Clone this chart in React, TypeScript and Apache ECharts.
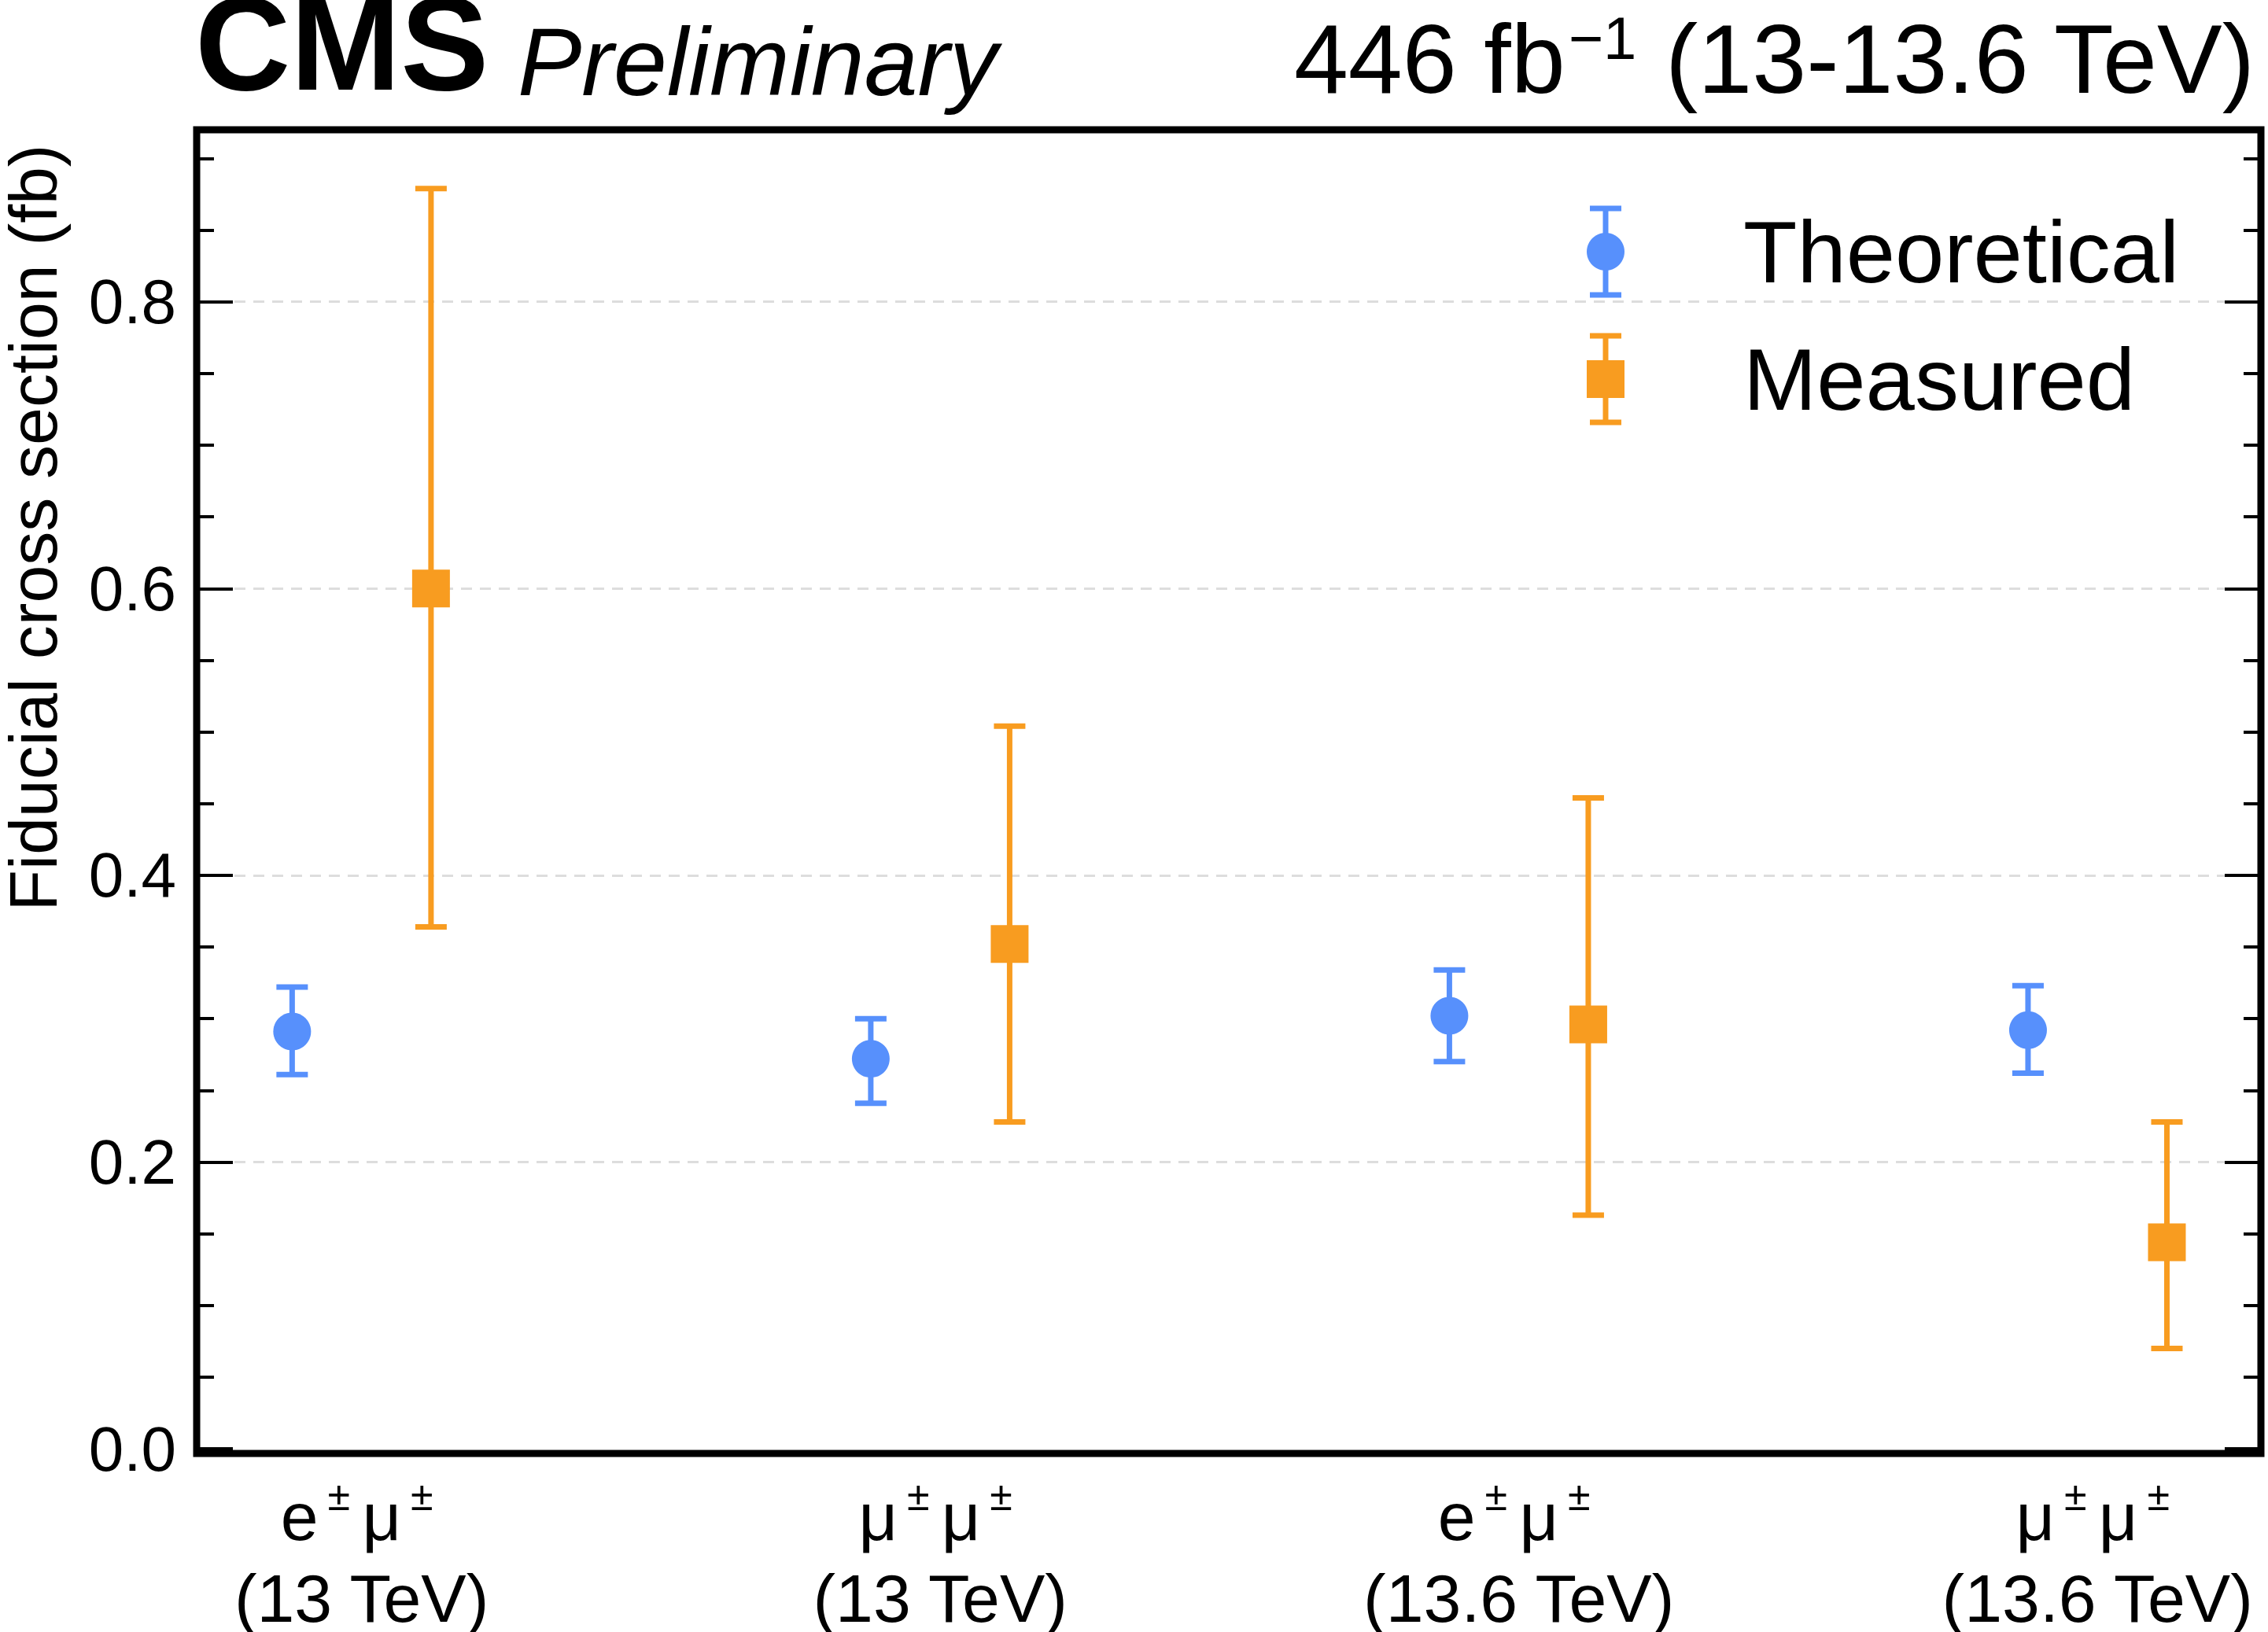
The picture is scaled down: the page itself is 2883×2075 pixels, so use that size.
import React, { useEffect, useRef } from "react";
import * as echarts from "echarts";

const categories = ["e±μ± 13", "μ±μ± 13", "e±μ± 13.6", "μ±μ± 13.6"];
const catLabels = [
  "{b|e}{s|±} {b|μ}{s|±}\n{b|(13 TeV)}",
  "{b|μ}{s|±} {b|μ}{s|±}\n{b|(13 TeV)}",
  "{b|e}{s|±} {b|μ}{s|±}\n{b|(13.6 TeV)}",
  "{b|μ}{s|±} {b|μ}{s|±}\n{b|(13.6 TeV)}",
];
const theoVal = [0.291, 0.272, 0.302, 0.292];
const theoLow = [0.261, 0.241, 0.27, 0.262];
const theoHigh = [0.322, 0.3, 0.334, 0.323];
const measVal = [0.6, 0.352, 0.296, 0.144];
const measLow = [0.364, 0.228, 0.163, 0.07];
const measHigh = [0.879, 0.504, 0.454, 0.228];
const yTicks = [0, 0.2, 0.4, 0.6, 0.8];

const BLUE = "#5790fc";
const ORANGE = "#f89c20";
const FONT = "Liberation Sans, Arial, Helvetica, sans-serif";
const OFF = 0.12;

function errSeries(name: string, low: number[], high: number[], off: number, color: string) {
  return {
    type: "custom",
    name: name + "err",
    silent: true,
    data: low.map((l, i) => [i + off, l, high[i]]),
    renderItem: (params: any, api: any) => {
      const x = api.value(0);
      const p1 = api.coord([x, api.value(1)]);
      const p2 = api.coord([x, api.value(2)]);
      const c = 20;
      const st = { stroke: color, lineWidth: 7 };
      return {
        type: "group",
        children: [
          { type: "line", shape: { x1: p1[0], y1: p1[1], x2: p2[0], y2: p2[1] }, style: st },
          { type: "line", shape: { x1: p1[0] - c, y1: p1[1], x2: p1[0] + c, y2: p1[1] }, style: st },
          { type: "line", shape: { x1: p2[0] - c, y1: p2[1], x2: p2[0] + c, y2: p2[1] }, style: st },
        ],
      };
    },
    z: 2,
  };
}

function legendItem(y: number, color: string, symbol: "circle" | "rect", text: string) {
  const x = 2041;
  const st = { stroke: color, lineWidth: 7 };
  const marker =
    symbol === "circle"
      ? { type: "circle", shape: { cx: x, cy: y, r: 24 }, style: { fill: color } }
      : { type: "rect", shape: { x: x - 24, y: y - 24, width: 48, height: 48 }, style: { fill: color } };
  return [
    { type: "line", shape: { x1: x, y1: y - 55, x2: x, y2: y + 55 }, style: st },
    { type: "line", shape: { x1: x - 20, y1: y - 55, x2: x + 20, y2: y - 55 }, style: st },
    { type: "line", shape: { x1: x - 20, y1: y + 55, x2: x + 20, y2: y + 55 }, style: st },
    marker,
    {
      type: "text",
      x: 2216,
      y,
      style: { text, fill: "#000", font: `112px ${FONT}`, textVerticalAlign: "middle" },
    },
  ];
}

export default function App() {
  const ref = useRef<HTMLDivElement>(null);
  useEffect(() => {
    document.body.style.margin = "0";
    const chart = echarts.init(ref.current!, undefined, { renderer: "svg" });
    const yAxisBase = {
      type: "value",
      min: 0,
      max: 0.92,
      interval: 0.2,
      axisLine: { show: false, onZero: false },
      axisTick: { show: true, inside: true, length: 46, lineStyle: { color: "#000", width: 4 } },
      minorTick: { show: true, splitNumber: 4, length: 22, lineStyle: { color: "#000", width: 4 } },
    };
    chart.setOption({
      animation: false,
      grid: { left: 250, right: 9, top: 165, bottom: 227 },
      xAxis: {
        type: "value",
        min: -0.285,
        max: 3.2825,
        axisLine: { show: false, onZero: false },
        axisTick: { show: false },
        splitLine: { show: false },
        axisLabel: {
          customValues: [0, 1, 2, 3],
          margin: 34,
          formatter: (v: number) => catLabels[Math.round(v)],
          rich: {
            b: { fontSize: 86, fontFamily: FONT, color: "#000", lineHeight: 104 },
            s: { fontSize: 52, fontFamily: FONT, color: "#000", verticalAlign: "top", padding: [0, 12, 34, 12] },
          },
          align: "center",
        },
      },
      yAxis: [
        {
          ...yAxisBase,
          position: "left",
          splitLine: {
            show: true,
            showMinLine: false,
            showMaxLine: false,
            lineStyle: { color: "#dddddd", type: [14, 10], width: 3 },
          },
          axisLabel: {
            margin: 26,
            fontSize: 80,
            fontFamily: FONT,
            color: "#000",
            formatter: (v: number) => (yTicks.includes(Math.round(v * 10) / 10) ? v.toFixed(1) : ""),
          },
        },
        {
          ...yAxisBase,
          position: "right",
          splitLine: { show: false },
          axisLabel: { show: false },
        },
      ],
      series: [
        errSeries("theo", theoLow, theoHigh, -OFF, BLUE),
        errSeries("meas", measLow, measHigh, OFF, ORANGE),
        {
          type: "scatter",
          name: "Theoretical",
          data: theoVal.map((v, i) => [i - OFF, v]),
          symbol: "circle",
          symbolSize: 48,
          itemStyle: { color: BLUE, opacity: 1 },
          z: 3,
        },
        {
          type: "scatter",
          name: "Measured",
          data: measVal.map((v, i) => [i + OFF, v]),
          symbol: "rect",
          symbolSize: 48,
          itemStyle: { color: ORANGE, opacity: 1 },
          z: 3,
        },
      ],
      graphic: [
        {
          type: "rect",
          shape: { x: 250, y: 165, width: 2624, height: 1683 },
          style: { fill: "none", stroke: "#000", lineWidth: 9 },
          z: 10,
        },
        {
          type: "text",
          x: 248,
          y: 140,
          style: { text: "CMS", fill: "#000", font: `bold 168px ${FONT}`, textVerticalAlign: "bottom" },
        },
        {
          type: "text",
          x: 658,
          y: 140,
          style: { text: "Preliminary", fill: "#000", font: `italic 122px ${FONT}`, textVerticalAlign: "bottom" },
        },
        {
          type: "text",
          x: 2866,
          y: 140,
          style: {
            text: "{a|446 fb}{s|−1}{a| (13-13.6 TeV)}",
            rich: {
              a: { fontSize: 124, fontFamily: FONT, fill: "#000" },
              s: { fontSize: 76, fontFamily: FONT, fill: "#000", verticalAlign: "top", padding: [0, 0, 54, 4] },
            },
            textAlign: "right",
            textVerticalAlign: "bottom",
          },
        },
        {
          type: "text",
          x: 42,
          y: 671,
          rotation: Math.PI / 2,
          style: {
            text: "Fiducial cross section (fb)",
            fill: "#000",
            font: `86px ${FONT}`,
            textAlign: "center",
            textVerticalAlign: "middle",
          },
        },
        ...legendItem(320, BLUE, "circle", "Theoretical"),
        ...legendItem(482, ORANGE, "rect", "Measured"),
      ],
    });
    return () => chart.dispose();
  }, []);
  return <div ref={ref} style={{ width: 2883, height: 2075 }} />;
}
